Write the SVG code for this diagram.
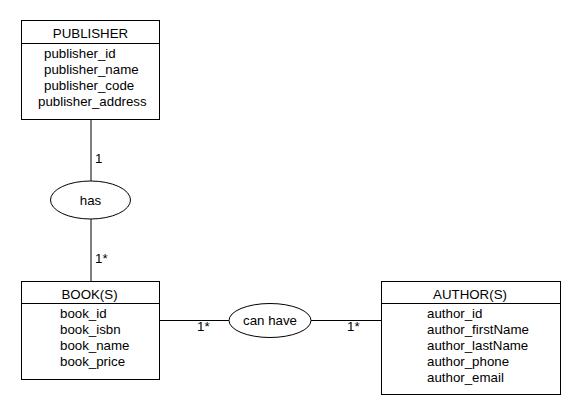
<svg xmlns="http://www.w3.org/2000/svg" width="580" height="420" viewBox="0 0 580 420">
<style>
.box{fill:#fff;stroke:#000;stroke-width:1}
.ln{stroke:#000;stroke-width:1;fill:none}
text{font-family:"Liberation Sans",Arial,sans-serif;font-size:13.3px;fill:#000}
.c{text-anchor:middle}
</style>
<rect width="580" height="420" fill="#fff"/>
<g id="connectors">
<line class="ln" x1="91" y1="119" x2="91" y2="181"/>
<line class="ln" x1="91" y1="219" x2="91" y2="281"/>
<line class="ln" x1="159" y1="320.5" x2="229" y2="320.5"/>
<line class="ln" x1="311" y1="320.5" x2="381" y2="320.5"/>
<text x="95" y="163">1</text>
<text x="95" y="263">1*</text>
<text x="197" y="331">1*</text>
<text x="347" y="331">1*</text>
</g>
<g id="publisher">
<rect class="box" x="21.5" y="20.5" width="138" height="99"/>
<line class="ln" x1="21.5" y1="43.5" x2="159.5" y2="43.5"/>
<text class="c" x="90.5" y="38">PUBLISHER</text>
<text x="44" y="58">publisher_id</text>
<text x="44" y="74">publisher_name</text>
<text x="44" y="90">publisher_code</text>
<text x="38" y="106">publisher_address</text>
</g>
<g id="has">
<ellipse class="box" cx="90.5" cy="200" rx="40" ry="19"/>
<text class="c" x="90.5" y="205">has</text>
</g>
<g id="book">
<rect class="box" x="21.5" y="281.5" width="138" height="98"/>
<line class="ln" x1="21.5" y1="303.5" x2="159.5" y2="303.5"/>
<text class="c" x="89.5" y="299">BOOK(S)</text>
<text x="60" y="318">book_id</text>
<text x="60" y="334">book_isbn</text>
<text x="60" y="350">book_name</text>
<text x="60" y="366">book_price</text>
</g>
<g id="canhave">
<ellipse class="box" cx="270" cy="320.5" rx="41" ry="17"/>
<text class="c" x="270" y="325">can have</text>
</g>
<g id="author">
<rect class="box" x="381.5" y="281.5" width="179" height="113"/>
<line class="ln" x1="381.5" y1="303.5" x2="560.5" y2="303.5"/>
<text class="c" x="470" y="299">AUTHOR(S)</text>
<text x="427" y="318">author_id</text>
<text x="427" y="334">author_firstName</text>
<text x="427" y="350">author_lastName</text>
<text x="427" y="366">author_phone</text>
<text x="427" y="382">author_email</text>
</g>
</svg>
